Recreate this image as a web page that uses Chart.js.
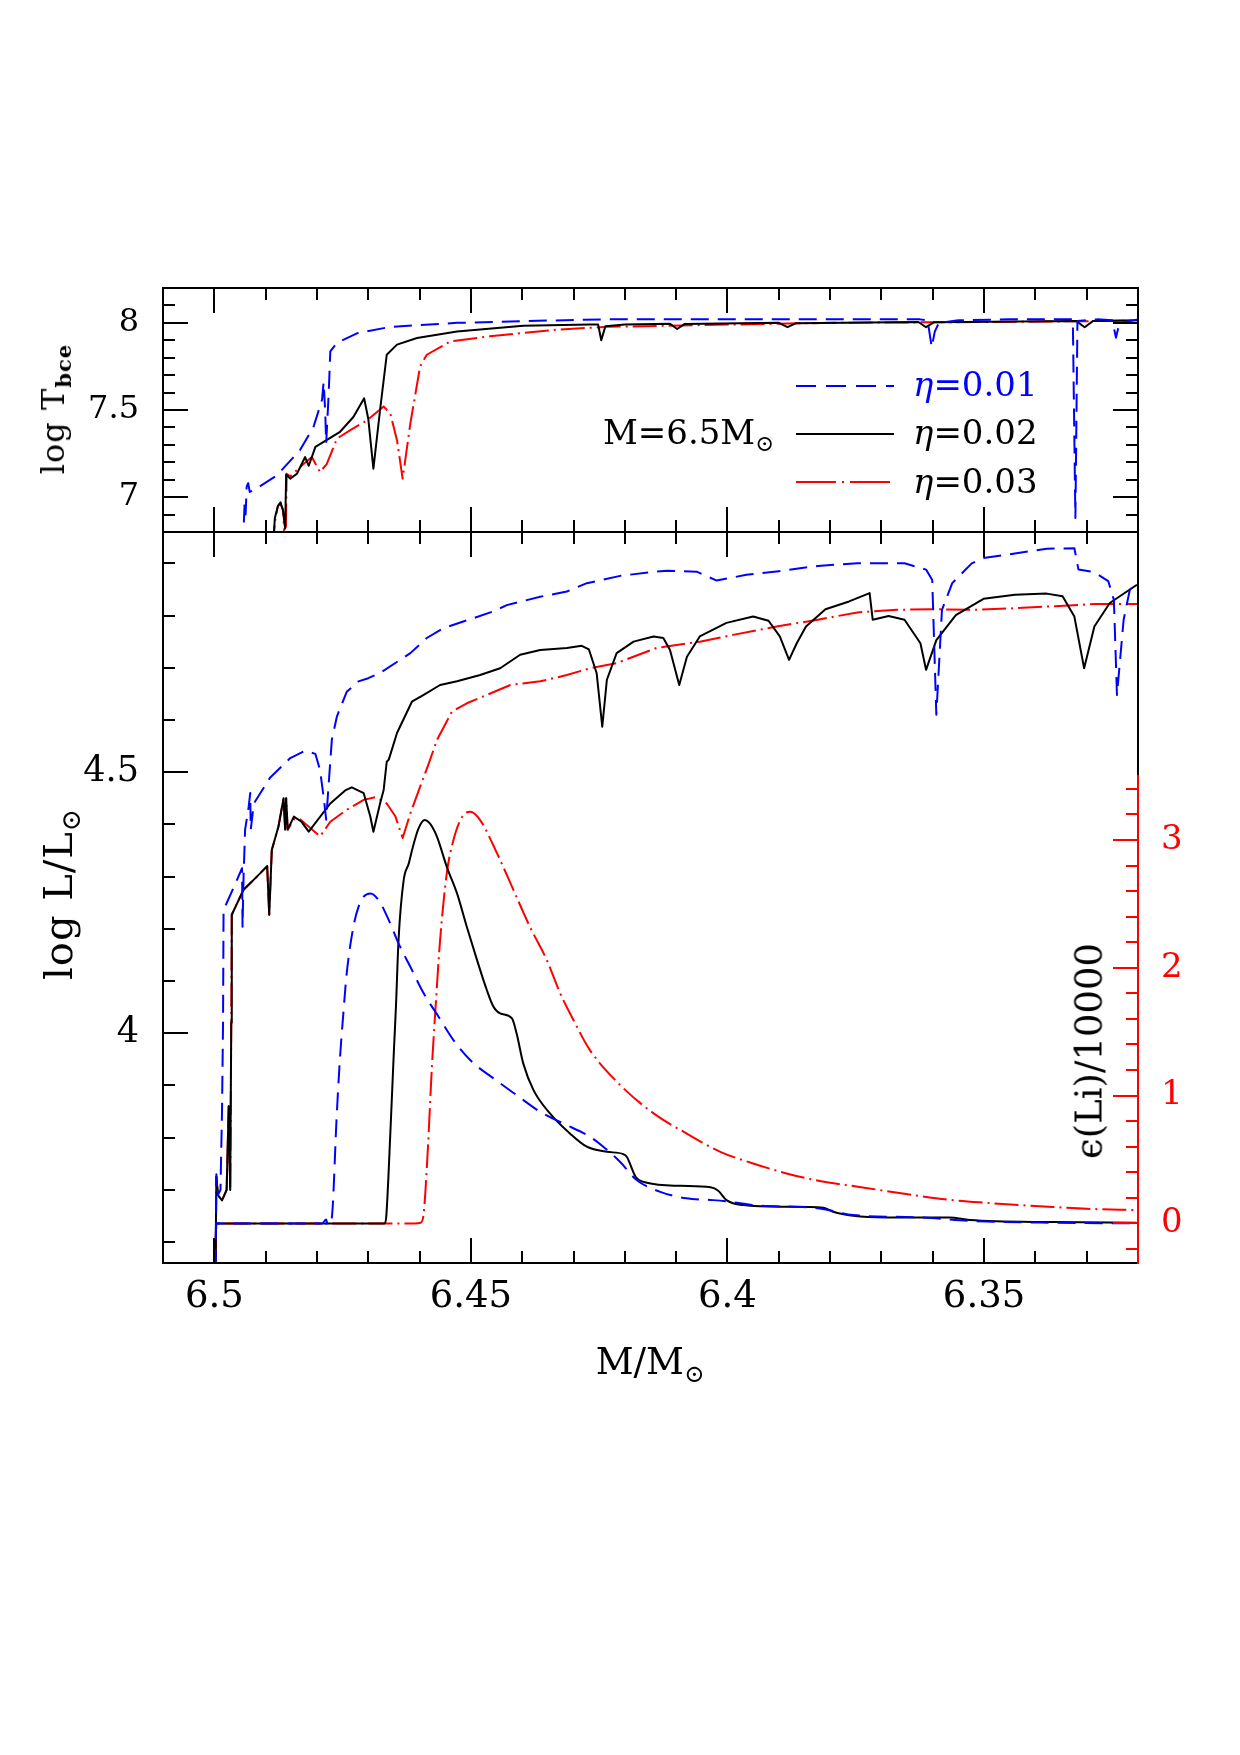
<!DOCTYPE html>
<html><head><meta charset="utf-8">
<script src="https://cdn.jsdelivr.net/npm/chart.js@4.4.1/dist/chart.umd.min.js"></script>
<style>
html,body{margin:0;padding:0;background:#fff;}
body{width:1240px;height:1755px;position:relative;overflow:hidden;font-family:'DejaVu Serif',serif;}
.wrap{position:absolute;left:0;width:1240px;}
#topWrap{top:0;height:600px;}
#botWrap{top:440px;height:960px;}
.lbl{position:absolute;white-space:nowrap;line-height:1;color:#000;}
.rot{transform:translate(-50%,-50%) rotate(-90deg);}
.sub{position:relative;top:0.32em;font-size:0.66em;}
</style></head>
<body>
<div class="wrap" id="topWrap"><canvas id="topChart"></canvas></div>
<div class="wrap" id="botWrap"><canvas id="botChart"></canvas></div>

<div class="lbl rot" style="left:53px;top:409px;font-size:32px;letter-spacing:1px">log T<span class="sub" style="font-weight:bold">bce</span></div>
<div class="lbl rot" style="left:58px;top:894px;font-size:40px;letter-spacing:1px">log L/L<span class="sub">⊙</span></div>
<div class="lbl rot" style="left:1089px;top:1051px;font-size:37px;">ϵ(Li)/10000</div>
<div class="lbl" style="left:650px;top:1343px;font-size:37px;transform:translateX(-50%)">M/M<span class="sub">⊙</span></div>

<div class="lbl" style="left:603px;top:415px;font-size:34px">M=6.5M<span class="sub">⊙</span></div>
<div class="lbl" style="left:913px;top:367px;font-size:34px;color:#0000ff"><i>η</i>=0.01</div>
<div class="lbl" style="left:913px;top:415px;font-size:34px"><i>η</i>=0.02</div>
<div class="lbl" style="left:913px;top:464px;font-size:34px"><i>η</i>=0.03</div>
<svg style="position:absolute;left:796px;top:370px" width="100" height="130">
<line x1="0" y1="16" x2="98" y2="16" stroke="#0000ff" stroke-width="2" stroke-dasharray="20 10"/>
<line x1="0" y1="64" x2="98" y2="64" stroke="#000" stroke-width="2"/>
<line x1="0" y1="112" x2="98" y2="112" stroke="#ff0000" stroke-width="2" stroke-dasharray="40 6 2 6"/>
</svg>

<script>
// ---------- axes ----------
const xMin = 6.32, xMax = 6.51, xMinorStep = 0.01;
const xTickLabels = ['6.5', '6.45', '6.4', '6.35'];
const tMin = 6.8, tMax = 8.2, tMinorStep = 0.1;
const tTickLabels = ['7', '7.5', '8'];
const lMin = 3.56, lMax = 4.96, lMinorStep = 0.1;
const lTickLabels = ['4', '4.5'];
const liMin = -0.31, liMax = 5.41, liMinorStep = 0.2, liTickFrom = -0.2, liTickTo = 3.4, liAxisTop = 3.5;
const liTickLabels = ['0', '1', '2', '3'];

// ---------- top panel: log T_bce ----------
const tBlueM = [6.4945, 6.4943, 6.4941, 6.4939, 6.4937, 6.4934, 6.4931, 6.4923, 6.4878, 6.4833, 6.4807, 6.4790, 6.4787, 6.4784, 6.4782, 6.4777, 6.4774, 6.4761, 6.4722, 6.4657, 6.4527, 6.4398, 6.4235, 6.4000, 6.3800, 6.3625, 6.3610, 6.3602, 6.3596, 6.3588, 6.3550, 6.3450, 6.3327, 6.3322, 6.3318, 6.3280, 6.3250, 6.3243, 6.3236, 6.3200];
const tBlueV = [6.70, 6.81, 6.96, 6.90, 7.06, 7.08, 7.03, 7.04, 7.125, 7.27, 7.40, 7.56, 7.66, 7.50, 7.31, 7.60, 7.836, 7.885, 7.94, 7.977, 8.00, 8.01, 8.02, 8.02, 8.02, 8.02, 8.015, 7.86, 7.95, 8.00, 8.015, 8.02, 8.02, 6.88, 8.01, 8.02, 8.015, 7.915, 8.00, 8.02];

const tBlackM = [6.4886, 6.4882, 6.4876, 6.4871, 6.4866, 6.4862, 6.4860, 6.4852, 6.4839, 6.4823, 6.4816, 6.4810, 6.4803, 6.4787, 6.4755, 6.4729, 6.4708, 6.4700, 6.4690, 6.4677, 6.4664, 6.4644, 6.4605, 6.4527, 6.4398, 6.4268, 6.4252, 6.4246, 6.4238, 6.4200, 6.4112, 6.4098, 6.4084, 6.3900, 6.3883, 6.3866, 6.3628, 6.3613, 6.3598, 6.3320, 6.3304, 6.3288, 6.3200];
const tBlackV = [6.70, 6.88, 6.95, 6.97, 6.92, 6.82, 7.13, 7.106, 7.134, 7.23, 7.18, 7.23, 7.288, 7.317, 7.375, 7.46, 7.567, 7.45, 7.163, 7.50, 7.817, 7.875, 7.913, 7.95, 7.984, 7.99, 7.99, 7.90, 7.98, 7.99, 7.995, 7.965, 7.993, 8.00, 7.975, 7.998, 8.005, 7.975, 8.003, 8.01, 7.975, 8.01, 8.015];

const tRedM = [6.4886, 6.4882, 6.4876, 6.4871, 6.4866, 6.4863, 6.4861, 6.4859, 6.4852, 6.4826, 6.4810, 6.4794, 6.4781, 6.4761, 6.4735, 6.4703, 6.4670, 6.4657, 6.4644, 6.4633, 6.4618, 6.4599, 6.4586, 6.4540, 6.4463, 6.4333, 6.4235, 6.4000, 6.3800, 6.3500, 6.3200];
const tRedV = [6.70, 6.86, 6.95, 6.96, 6.93, 6.75, 6.72, 7.134, 7.12, 7.19, 7.23, 7.144, 7.19, 7.336, 7.384, 7.44, 7.52, 7.48, 7.327, 7.106, 7.423, 7.75, 7.817, 7.894, 7.923, 7.961, 7.977, 7.99, 8.00, 8.005, 8.012];

// ---------- bottom panel: log L/Lsun ----------
const lBlueM = [6.4998, 6.4996, 6.4993, 6.4988, 6.4985, 6.4983, 6.4982, 6.4962, 6.4946, 6.4945, 6.4943, 6.4940, 6.4933, 6.4930, 6.4929, 6.4923, 6.4891, 6.4852, 6.4823, 6.4803, 6.4794, 6.4787, 6.4782, 6.4777, 6.4771, 6.4761, 6.4742, 6.4719, 6.4700, 6.4677, 6.4638, 6.4618, 6.4586, 6.4553, 6.4495, 6.4456, 6.4430, 6.4365, 6.4313, 6.4274, 6.4209, 6.4151, 6.4117, 6.4060, 6.4021, 6.3963, 6.3900, 6.3824, 6.3747, 6.3655, 6.3613, 6.3601, 6.3593, 6.3582, 6.3562, 6.3524, 6.3501, 6.3440, 6.3378, 6.3324, 6.3316, 6.3285, 6.3258, 6.3247, 6.3241, 6.3228, 6.3216, 6.3202];
const lBlueV = [3.50, 3.73, 3.69, 3.70, 3.85, 4.02, 4.236, 4.28, 4.316, 4.204, 4.30, 4.39, 4.434, 4.46, 4.39, 4.44, 4.49, 4.527, 4.541, 4.535, 4.504, 4.453, 4.409, 4.479, 4.562, 4.607, 4.654, 4.674, 4.68, 4.69, 4.715, 4.728, 4.757, 4.776, 4.795, 4.808, 4.82, 4.836, 4.846, 4.862, 4.876, 4.883, 4.886, 4.884, 4.867, 4.878, 4.885, 4.895, 4.90, 4.90, 4.888, 4.868, 4.61, 4.811, 4.862, 4.90, 4.91, 4.919, 4.928, 4.929, 4.888, 4.883, 4.866, 4.83, 4.648, 4.792, 4.849, 4.866];

const lBlackM = [6.4998, 6.4996, 6.4993, 6.4985, 6.4976, 6.4972, 6.4969, 6.4967, 6.4966, 6.4943, 6.4917, 6.4897, 6.4893, 6.4888, 6.4875, 6.4865, 6.4862, 6.4860, 6.4857, 6.4845, 6.4830, 6.4816, 6.4774, 6.4745, 6.4732, 6.4709, 6.4696, 6.4690, 6.4677, 6.4670, 6.4664, 6.4660, 6.4644, 6.4615, 6.4592, 6.4560, 6.4527, 6.4482, 6.4443, 6.4404, 6.4365, 6.4313, 6.4284, 6.4270, 6.4255, 6.4244, 6.4235, 6.4216, 6.4183, 6.4144, 6.4125, 6.4112, 6.4094, 6.4079, 6.4054, 6.4002, 6.3950, 6.3920, 6.3898, 6.3880, 6.3865, 6.3847, 6.3809, 6.3763, 6.3723, 6.3717, 6.3686, 6.3655, 6.3624, 6.3613, 6.3593, 6.3555, 6.3501, 6.3440, 6.3378, 6.3347, 6.3324, 6.3305, 6.3285, 6.3255, 6.3202];
const lBlackV = [3.50, 3.725, 3.69, 3.68, 3.70, 3.86, 3.70, 4.02, 4.227, 4.275, 4.30, 4.32, 4.227, 4.351, 4.396, 4.45, 4.39, 4.45, 4.39, 4.415, 4.405, 4.386, 4.44, 4.465, 4.471, 4.46, 4.415, 4.386, 4.44, 4.466, 4.52, 4.524, 4.575, 4.635, 4.648, 4.667, 4.674, 4.686, 4.699, 4.725, 4.734, 4.738, 4.742, 4.735, 4.69, 4.587, 4.677, 4.728, 4.75, 4.76, 4.757, 4.734, 4.667, 4.721, 4.76, 4.786, 4.798, 4.79, 4.76, 4.715, 4.747, 4.779, 4.812, 4.827, 4.843, 4.792, 4.799, 4.792, 4.747, 4.696, 4.753, 4.801, 4.832, 4.84, 4.842, 4.837, 4.798, 4.699, 4.779, 4.824, 4.859];

const lRedM = [6.4998, 6.4996, 6.4993, 6.4985, 6.4976, 6.4972, 6.4969, 6.4967, 6.4966, 6.4943, 6.4917, 6.4897, 6.4893, 6.4888, 6.4875, 6.4865, 6.4862, 6.4860, 6.4857, 6.4845, 6.4833, 6.4813, 6.4794, 6.4774, 6.4742, 6.4709, 6.4686, 6.4664, 6.4647, 6.4633, 6.4618, 6.4599, 6.4582, 6.4566, 6.4537, 6.4508, 6.4469, 6.4423, 6.4365, 6.4313, 6.4268, 6.4216, 6.4138, 6.4054, 6.3989, 6.3904, 6.3824, 6.3747, 6.3670, 6.3593, 6.3516, 6.3440, 6.3362, 6.3285, 6.3202];
const lRedV = [3.50, 3.725, 3.69, 3.68, 3.70, 3.86, 3.70, 4.02, 4.227, 4.275, 4.30, 4.32, 4.227, 4.351, 4.396, 4.45, 4.39, 4.45, 4.39, 4.41, 4.41, 4.393, 4.377, 4.405, 4.428, 4.447, 4.452, 4.44, 4.415, 4.374, 4.421, 4.472, 4.517, 4.562, 4.616, 4.632, 4.648, 4.667, 4.674, 4.686, 4.699, 4.709, 4.738, 4.75, 4.763, 4.779, 4.792, 4.806, 4.811, 4.812, 4.811, 4.814, 4.818, 4.822, 4.822];

// ---------- bottom panel: epsilon(Li)/10000 ----------
const liBlueM = [6.4999, 6.4996, 6.4900, 6.4790, 6.4782, 6.4779, 6.4772, 6.4769, 6.4762, 6.4755, 6.4749, 6.4742, 6.4729, 6.4719, 6.4709, 6.4696, 6.4680, 6.4660, 6.4641, 6.4618, 6.4592, 6.4563, 6.4534, 6.4498, 6.4456, 6.4411, 6.4365, 6.4320, 6.4268, 6.4242, 6.4209, 6.4177, 6.4131, 6.4080, 6.4028, 6.3995, 6.3950, 6.3820, 6.3755, 6.3625, 6.3528, 6.3365, 6.3203];
const liBlueV = [-0.5, 0.0, 0.0, 0.0, 0.03, -0.01, 0.02, 0.15, 0.80, 1.30, 1.62, 1.956, 2.321, 2.477, 2.556, 2.582, 2.53, 2.373, 2.191, 2.008, 1.80, 1.617, 1.434, 1.265, 1.135, 1.004, 0.873, 0.782, 0.678, 0.60, 0.48, 0.339, 0.247, 0.196, 0.182, 0.169, 0.143, 0.117, 0.065, 0.047, 0.02, 0.005, 0.0];

const liBlackM = [6.4999, 6.4996, 6.4900, 6.4668, 6.4665, 6.4657, 6.4650, 6.4646, 6.4641, 6.4631, 6.4621, 6.4613, 6.4602, 6.4590, 6.4580, 6.4566, 6.4547, 6.4527, 6.4508, 6.4488, 6.4469, 6.4456, 6.4443, 6.4420, 6.4411, 6.4398, 6.4378, 6.4346, 6.4307, 6.4274, 6.4235, 6.4203, 6.4196, 6.4179, 6.4157, 6.4092, 6.4033, 6.4018, 6.4002, 6.3969, 6.3885, 6.3813, 6.3794, 6.3755, 6.3690, 6.3567, 6.3528, 6.3365, 6.3203];
const liBlackV = [-0.5, 0.0, 0.0, 0.0, 0.05, 0.704, 1.356, 1.70, 2.217, 2.686, 2.817, 2.947, 3.091, 3.156, 3.13, 3.025, 2.79, 2.582, 2.321, 2.06, 1.826, 1.695, 1.643, 1.604, 1.487, 1.252, 1.043, 0.861, 0.704, 0.60, 0.56, 0.542, 0.52, 0.365, 0.318, 0.294, 0.282, 0.255, 0.182, 0.143, 0.13, 0.122, 0.091, 0.06, 0.047, 0.047, 0.026, 0.01, 0.005];

const liRedM = [6.4999, 6.4996, 6.4900, 6.4610, 6.4598, 6.4592, 6.4584, 6.4576, 6.4569, 6.4560, 6.4547, 6.4534, 6.4517, 6.4501, 6.4482, 6.4449, 6.4417, 6.4385, 6.4352, 6.4326, 6.4300, 6.4268, 6.4209, 6.4144, 6.4080, 6.4014, 6.3950, 6.3885, 6.3820, 6.3755, 6.3690, 6.3625, 6.3560, 6.3495, 6.3430, 6.3365, 6.3300, 6.3203];
const liRedV = [-0.5, 0.0, 0.0, 0.0, 0.005, 0.078, 0.574, 1.225, 1.68, 2.217, 2.739, 3.00, 3.182, 3.221, 3.156, 2.895, 2.608, 2.321, 2.06, 1.80, 1.59, 1.356, 1.082, 0.861, 0.704, 0.56, 0.469, 0.391, 0.331, 0.292, 0.253, 0.214, 0.182, 0.161, 0.143, 0.128, 0.114, 0.104];

// ---------- styles ----------
const BLUE = '#0000ff', RED = '#ff0000', BLACK = '#000000';
const dashBlue = [18, 9], dashRed = [24, 5, 2, 5];
const FONT = 'DejaVu Serif';

function xy(ms, vs) { return ms.map((m, i) => ({ x: m, y: vs[i] })); }
function tickBuilder(lo, hi, step, labels) {
  const majors = labels.map(Number);
  return function (scale) {
    const ticks = [];
    const i0 = Math.ceil(lo / step - 1e-6), i1 = Math.floor(hi / step + 1e-6);
    for (let i = i0; i <= i1; i++) {
      const v = Math.round(i * step * 1e6) / 1e6;
      ticks.push({ value: v, major: majors.some(m => Math.abs(m - v) < 1e-6) });
    }
    scale.ticks = ticks;
  };
}
function labelFor(labels) {
  return function (value) {
    const hit = labels.find(l => Math.abs(Number(l) - value) < 1e-6);
    return hit === undefined ? '' : hit;
  };
}
function line(data, color, dash, axis, smooth) {
  const d = { data, borderColor: color, borderWidth: 2, borderDash: dash, pointRadius: 0,
    fill: false, tension: 0, yAxisID: axis, borderCapStyle: 'butt', borderJoinStyle: 'round' };
  if (smooth) d.cubicInterpolationMode = 'monotone';
  return d;
}

const frameTicks = {
  id: 'frameTicks',
  afterDraw(chart, args, o) {
    const { ctx, chartArea: a } = chart;
    ctx.save();
    ctx.lineWidth = 2; ctx.lineCap = 'butt'; ctx.setLineDash([]);
    (o.ticks || []).forEach(t => {
      const sc = chart.scales[t.scale];
      ctx.strokeStyle = t.color || BLACK;
      sc.ticks.forEach(tk => {
        const p = Math.round(sc.getPixelForValue(tk.value));
        const len = tk.major ? 25 : 12;
        ctx.beginPath();
        if (t.side === 'top') { ctx.moveTo(p, a.top); ctx.lineTo(p, a.top + len); }
        else if (t.side === 'bottom') { ctx.moveTo(p, a.bottom); ctx.lineTo(p, a.bottom - len); }
        else if (t.side === 'left') { ctx.moveTo(a.left, p); ctx.lineTo(a.left + len, p); }
        else { ctx.moveTo(a.right, p); ctx.lineTo(a.right - len, p); }
        ctx.stroke();
      });
    });
    (o.borders || []).forEach(b => {
      ctx.strokeStyle = b.color || BLACK;
      ctx.beginPath();
      if (b.side === 'top') { ctx.moveTo(a.left - 1, a.top); ctx.lineTo(a.right + 1, a.top); }
      else if (b.side === 'bottom') { ctx.moveTo(a.left - 1, a.bottom); ctx.lineTo(a.right + 1, a.bottom); }
      else {
        const x = b.side === 'left' ? a.left : a.right;
        let y0 = a.top, y1 = a.bottom;
        if (b.scale) {
          const sc = chart.scales[b.scale];
          if (b.from !== null) y1 = Math.round(sc.getPixelForValue(b.from));
          if (b.to !== null) y0 = Math.round(sc.getPixelForValue(b.to));
        }
        ctx.moveTo(x, y0 - 1); ctx.lineTo(x, y1 + 1);
      }
      ctx.stroke();
    });
    ctx.restore();
  }
};

Chart.defaults.font.family = FONT;
Chart.defaults.color = BLACK;

function xScale(showLabels) {
  return {
    type: 'linear', position: 'bottom', min: xMin, max: xMax, reverse: true, bounds: 'data',
    grid: { display: false, drawTicks: false }, border: { display: false },
    ticks: { display: showLabels, autoSkip: false, maxRotation: 0, minRotation: 0, padding: 12,
      font: { size: 37 }, color: BLACK, callback: labelFor(xTickLabels) },
    afterBuildTicks: tickBuilder(xMin, xMax, xMinorStep, xTickLabels),
    afterFit: s => { s.height = showLabels ? 70 : 0; }
  };
}

new Chart(document.getElementById('topChart'), {
  type: 'line',
  data: { datasets: [
    line(xy(tBlueM, tBlueV), BLUE, dashBlue, 'y'),
    line(xy(tBlackM, tBlackV), BLACK, [], 'y'),
    line(xy(tRedM, tRedV), RED, dashRed, 'y')
  ] },
  options: {
    responsive: true, maintainAspectRatio: false, animation: false, events: [],
    layout: { padding: { left: 63, right: 102, top: 288, bottom: 68 } },
    plugins: { legend: { display: false }, tooltip: { enabled: false },
      frameTicks: {
        ticks: [{ scale: 'x', side: 'top' }, { scale: 'x', side: 'bottom' }, { scale: 'y', side: 'left' }, { scale: 'y', side: 'right' }],
        borders: [{ side: 'left' }, { side: 'right' }, { side: 'top' }, { side: 'bottom' }]
      } },
    scales: {
      x: xScale(false),
      y: {
        type: 'linear', position: 'left', min: tMin, max: tMax, bounds: 'data',
        grid: { display: false, drawTicks: false }, border: { display: false },
        ticks: { autoSkip: false, padding: 24, font: { size: 32 }, color: BLACK, callback: labelFor(tTickLabels) },
        afterBuildTicks: tickBuilder(tMin, tMax, tMinorStep, tTickLabels),
        afterFit: s => { s.width = 100; }
      }
    }
  },
  plugins: [frameTicks]
});

new Chart(document.getElementById('botChart'), {
  type: 'line',
  data: { datasets: [
    line(xy(lBlueM, lBlueV), BLUE, dashBlue, 'y'),
    line(xy(lBlackM, lBlackV), BLACK, [], 'y'),
    line(xy(lRedM, lRedV), RED, dashRed, 'y'),
    line(xy(liBlueM, liBlueV), BLUE, dashBlue, 'yLi', true),
    line(xy(liBlackM, liBlackV), BLACK, [], 'yLi', true),
    line(xy(liRedM, liRedV), RED, dashRed, 'yLi', true)
  ] },
  options: {
    responsive: true, maintainAspectRatio: false, animation: false, events: [],
    layout: { padding: { left: 63, right: 22, top: 92, bottom: 67 } },
    plugins: { legend: { display: false }, tooltip: { enabled: false },
      frameTicks: {
        ticks: [{ scale: 'x', side: 'top' }, { scale: 'x', side: 'bottom' }, { scale: 'y', side: 'left' }, { scale: 'yLi', side: 'right', color: RED }],
        borders: [{ side: 'left' }, { side: 'top' }, { side: 'bottom' },
          { side: 'right', color: BLACK, scale: 'yLi', from: liAxisTop, to: null },
          { side: 'right', color: RED, scale: 'yLi', from: null, to: liAxisTop }]
      } },
    scales: {
      x: xScale(true),
      y: {
        type: 'linear', position: 'left', min: lMin, max: lMax, bounds: 'data',
        grid: { display: false, drawTicks: false }, border: { display: false },
        ticks: { autoSkip: false, padding: 24, font: { size: 35 }, color: BLACK, callback: labelFor(lTickLabels) },
        afterBuildTicks: tickBuilder(lMin, lMax, lMinorStep, lTickLabels),
        afterFit: s => { s.width = 100; }
      },
      yLi: {
        type: 'linear', position: 'right', min: liMin, max: liMax, bounds: 'data',
        grid: { display: false, drawTicks: false }, border: { display: false },
        ticks: { autoSkip: false, padding: 23, font: { size: 34 }, color: RED, callback: labelFor(liTickLabels) },
        afterBuildTicks: tickBuilder(liTickFrom, liTickTo, liMinorStep, liTickLabels),
        afterFit: s => { s.width = 80; }
      }
    }
  },
  plugins: [frameTicks]
});
</script>
</body></html>
